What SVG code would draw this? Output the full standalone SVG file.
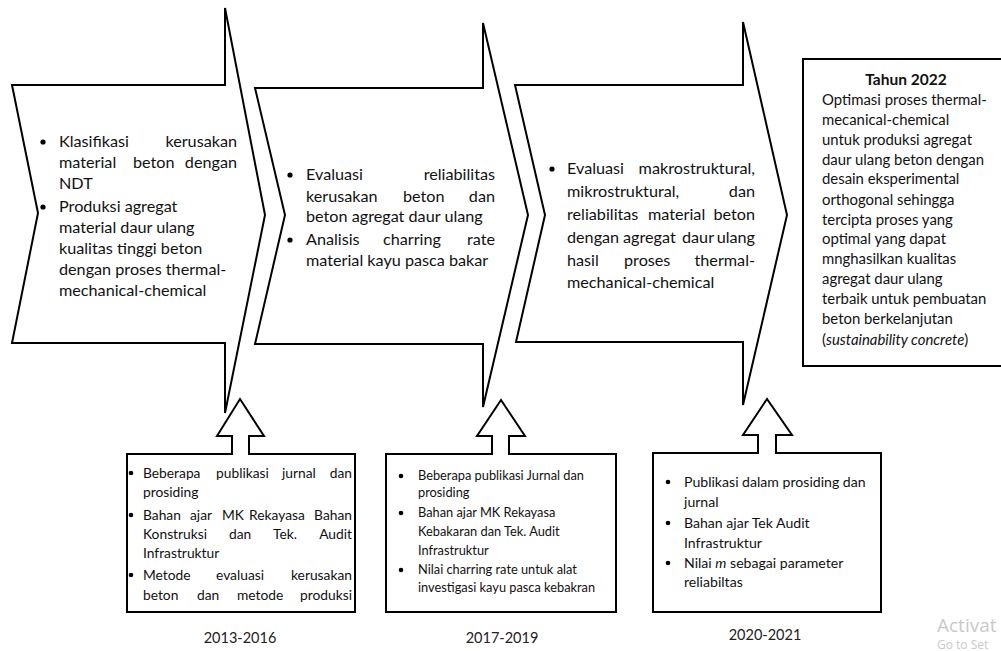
<svg xmlns="http://www.w3.org/2000/svg" width="1001" height="651" viewBox="0 0 1001 651">
<style>
.shape{fill:#fff;stroke:#000;stroke-width:2;stroke-linejoin:miter}
.c{font-family:Lato,"Open Sans",sans-serif;font-size:16.2px;fill:#111}
.r{font-family:Lato,"Open Sans",sans-serif;font-size:14.9px;fill:#111}
.rb{font-family:Lato,"Open Sans",sans-serif;font-size:15.5px;font-weight:bold;fill:#111}
.b{font-family:Lato,"Open Sans",sans-serif;font-size:13.8px;fill:#111}
.b3{font-family:Lato,"Open Sans",sans-serif;font-size:14.1px;fill:#111}
.b2{font-family:Lato,"Open Sans",sans-serif;font-size:12.8px;fill:#111}
.y{font-family:Lato,"Open Sans",sans-serif;font-size:14.5px;fill:#222}
.wm{font-family:"Open Sans",sans-serif;fill:#c9c9c9}
.dot{fill:#000}
</style>
<rect width="1001" height="651" fill="#fff"/>

<g id="connectors"></g>

<g id="stage1">
<path class="shape" d="M12,85 L225,85 L225,8 L265,215 L225,413 L225,343 L12,343 L38,213 Z"/>
<circle class="dot" cx="43" cy="142" r="2.6"/>
<circle class="dot" cx="43" cy="207" r="2.6"/>
<text class="c"><tspan x="59" y="147">Klasifikasi</tspan><tspan x="237" y="147" text-anchor="end">kerusakan</tspan></text>
<text class="c"><tspan x="59" y="168">material</tspan><tspan x="133" y="168">beton</tspan><tspan x="237" y="168" text-anchor="end">dengan</tspan></text>
<text class="c" x="59" y="189">NDT</text>
<text class="c" x="59" y="212">Produksi agregat</text>
<text class="c" x="59" y="233">material daur ulang</text>
<text class="c" x="59" y="254">kualitas tinggi beton</text>
<text class="c" x="59" y="275">dengan proses thermal-</text>
<text class="c" x="59" y="296">mechanical-chemical</text>
</g>

<g id="stage2">
<path class="shape" d="M255,88 L483,88 L483,23 L528,215 L483,407 L483,344 L255,344 L285,215 Z"/>
<circle class="dot" cx="290" cy="175" r="2.6"/>
<circle class="dot" cx="290" cy="240" r="2.6"/>
<text class="c"><tspan x="306" y="180">Evaluasi</tspan><tspan x="495" y="180" text-anchor="end">reliabilitas</tspan></text>
<text class="c"><tspan x="306" y="202">kerusakan</tspan><tspan x="403" y="202">beton</tspan><tspan x="495" y="202" text-anchor="end">dan</tspan></text>
<text class="c" x="306" y="222">beton agregat daur ulang</text>
<text class="c"><tspan x="306" y="245">Analisis</tspan><tspan x="383" y="245">charring</tspan><tspan x="495" y="245" text-anchor="end">rate</tspan></text>
<text class="c" x="306" y="266">material kayu pasca bakar</text>
</g>

<g id="stage3">
<path class="shape" d="M515,85 L743,85 L743,22 L787,215 L743,405 L743,342 L516,342 L545,215 Z"/>
<circle class="dot" cx="552" cy="169" r="2.6"/>
<text class="c"><tspan x="567" y="174">Evaluasi</tspan><tspan x="755" y="174" text-anchor="end">makrostruktural,</tspan></text>
<text class="c"><tspan x="567" y="197">mikrostruktural,</tspan><tspan x="755" y="197" text-anchor="end">dan</tspan></text>
<text class="c"><tspan x="567" y="220">reliabilitas</tspan><tspan x="648" y="220">material</tspan><tspan x="755" y="220" text-anchor="end">beton</tspan></text>
<text class="c"><tspan x="567" y="243">dengan</tspan><tspan x="623" y="243">agregat</tspan><tspan x="682" y="243">daur</tspan><tspan x="755" y="243" text-anchor="end">ulang</tspan></text>
<text class="c"><tspan x="567" y="266">hasil</tspan><tspan x="624" y="266">proses</tspan><tspan x="755" y="266" text-anchor="end">thermal-</tspan></text>
<text class="c" x="567" y="288">mechanical-chemical</text>
</g>

<g id="target2022">
<rect class="shape" x="803" y="59" width="215" height="307"/>
<text class="rb" x="906" y="85" text-anchor="middle">Tahun 2022</text>
<text class="r" x="822" y="105">Optimasi proses thermal-</text>
<text class="r" x="822" y="125">mecanical-chemical</text>
<text class="r" x="822" y="145">untuk produksi agregat</text>
<text class="r" x="822" y="165">daur ulang beton dengan</text>
<text class="r" x="822" y="184">desain eksperimental</text>
<text class="r" x="822" y="205">orthogonal sehingga</text>
<text class="r" x="822" y="225">tercipta proses yang</text>
<text class="r" x="822" y="244">optimal yang dapat</text>
<text class="r" x="822" y="264">mnghasilkan kualitas</text>
<text class="r" x="822" y="284">agregat daur ulang</text>
<text class="r" x="822" y="304">terbaik untuk pembuatan</text>
<text class="r" x="822" y="324">beton berkelanjutan</text>
<text class="r" x="822" y="345">(<tspan font-style="italic">sustainability concrete</tspan>)</text>
</g>

<g id="output1">
<path class="shape" d="M127,454 L232,454 L232,436 L217,436 L240,399 L264,436 L249,436 L249,454 L355,454 L355,612 L127,612 Z"/>
<circle class="dot" cx="131" cy="473" r="2.3"/>
<circle class="dot" cx="131" cy="515" r="2.3"/>
<circle class="dot" cx="131" cy="575" r="2.3"/>
<text class="b"><tspan x="143" y="478">Beberapa</tspan><tspan x="216" y="478">publikasi</tspan><tspan x="282" y="478">jurnal</tspan><tspan x="352" y="478" text-anchor="end">dan</tspan></text>
<text class="b" x="143" y="497">prosiding</text>
<text class="b"><tspan x="143" y="520">Bahan</tspan><tspan x="190" y="520">ajar</tspan><tspan x="222" y="520">MK</tspan><tspan x="249" y="520">Rekayasa</tspan><tspan x="352" y="520" text-anchor="end">Bahan</tspan></text>
<text class="b"><tspan x="143" y="539">Konstruksi</tspan><tspan x="229" y="539">dan</tspan><tspan x="273" y="539">Tek.</tspan><tspan x="352" y="539" text-anchor="end">Audit</tspan></text>
<text class="b" x="143" y="558">Infrastruktur</text>
<text class="b"><tspan x="143" y="580">Metode</tspan><tspan x="216" y="580">evaluasi</tspan><tspan x="352" y="580" text-anchor="end">kerusakan</tspan></text>
<text class="b"><tspan x="143" y="600">beton</tspan><tspan x="197" y="600">dan</tspan><tspan x="237" y="600">metode</tspan><tspan x="352" y="600" text-anchor="end">produksi</tspan></text>
</g>

<g id="output2">
<path class="shape" d="M386,454 L492,454 L492,436 L477,436 L501,400 L525,436 L509,436 L509,454 L616,454 L616,612 L386,612 Z"/>
<circle class="dot" cx="401" cy="476" r="2.3"/>
<circle class="dot" cx="401" cy="513" r="2.3"/>
<circle class="dot" cx="401" cy="570" r="2.3"/>
<text class="b2" x="418" y="480">Beberapa publikasi Jurnal dan</text>
<text class="b2" x="418" y="497">prosiding</text>
<text class="b2" x="418" y="517">Bahan ajar MK Rekayasa</text>
<text class="b2" x="418" y="536">Kebakaran dan Tek. Audit</text>
<text class="b2" x="418" y="555">Infrastruktur</text>
<text class="b2" x="418" y="574">Nilai charring rate untuk alat</text>
<text class="b2" x="418" y="592">investigasi kayu pasca kebakran</text>
</g>

<g id="output3">
<path class="shape" d="M653,453 L758,453 L758,435 L743,435 L767,399 L792,435 L776,435 L776,453 L881,453 L881,612 L653,612 Z"/>
<circle class="dot" cx="668" cy="482" r="2.3"/>
<circle class="dot" cx="668" cy="523" r="2.3"/>
<circle class="dot" cx="668" cy="563" r="2.3"/>
<text class="b3" x="684" y="487">Publikasi dalam prosiding dan</text>
<text class="b3" x="684" y="507">jurnal</text>
<text class="b3" x="684" y="528">Bahan ajar Tek Audit</text>
<text class="b3" x="684" y="548">Infrastruktur</text>
<text class="b3" x="684" y="568">Nilai <tspan font-style="italic">m</tspan> sebagai parameter</text>
<text class="b3" x="684" y="587">reliabiltas</text>
</g>

<g id="years">
<text class="y" x="240" y="643" text-anchor="middle">2013-2016</text>
<text class="y" x="502" y="643" text-anchor="middle">2017-2019</text>
<text class="y" x="765" y="640" text-anchor="middle">2020-2021</text>
</g>

<g id="watermark">
<text class="wm" x="937" y="632" font-size="19">Activat</text>
<text class="wm" x="937" y="649" font-size="12">Go to Set</text>
</g>
</svg>
